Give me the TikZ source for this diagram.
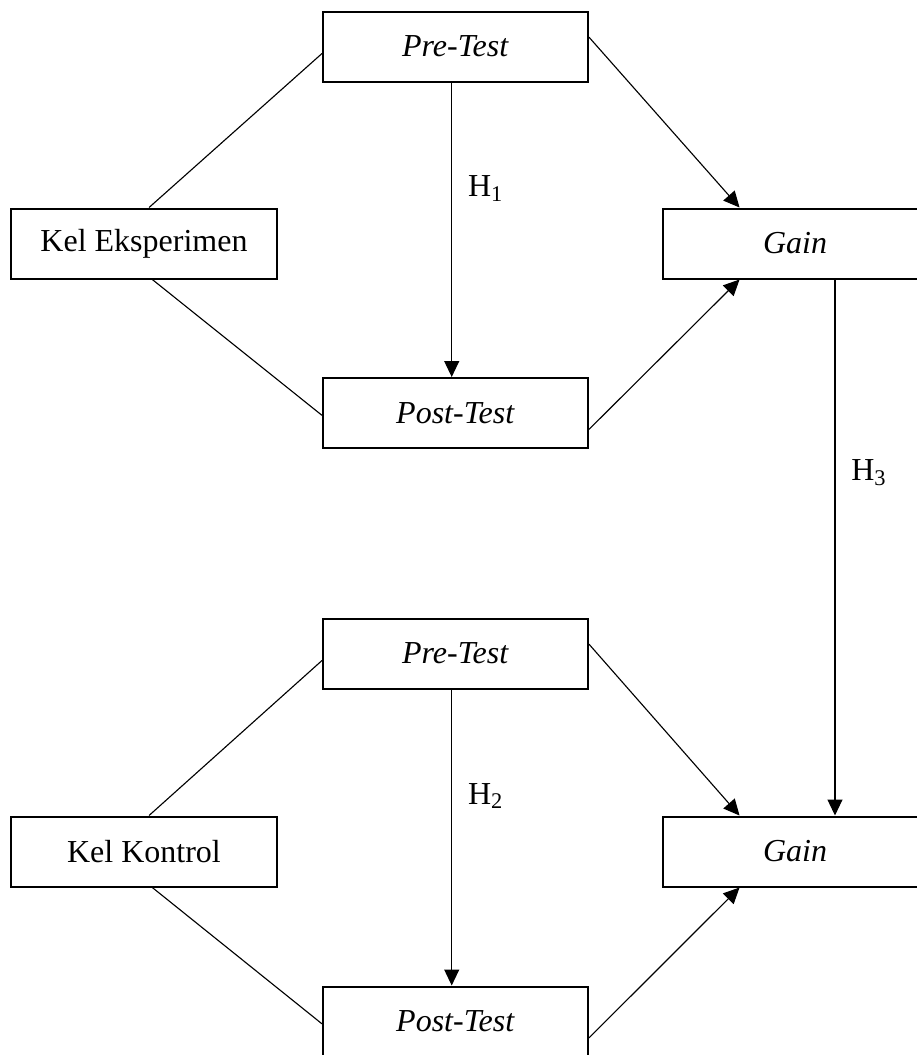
\documentclass[tikz,border=0pt]{standalone}
\usepackage{fontspec}
\setmainfont{Liberation Serif}
\usetikzlibrary{arrows.meta}
\tikzset{
  box/.style={rectangle,draw,line width=0.8pt,minimum width=106pt,
    minimum height=28pt,inner sep=0pt,font=\fontsize{12.8}{15}\selectfont},
  link/.style={line width=0.45pt},
  arr/.style={-{Triangle[length=6.4pt,width=6pt]},line width=0.45pt},
  hyp/.style={right=3pt,font=\fontsize{12.8}{15}\selectfont}
}
\begin{document}
\begin{tikzpicture}[x=0.4pt,y=-0.4pt]
 \useasboundingbox (0,0) rectangle (917,1055);
 % experiment group
 \node[box] (pre1) at (455.5,46.5) {\textit{Pre-Test}};
 \node[box] (kel1) at (144,243.5) {Kel Eksperimen};
 \node[box] (gain1) at (795,243.5) {\textit{Gain}};
 \node[box] (post1) at (455.5,413) {\textit{Post-Test}};
 % control group
 \node[box] (pre2) at (455.5,653.5) {\textit{Pre-Test}};
 \node[box] (kel2) at (144,851.5) {Kel Kontrol};
 \node[box] (gain2) at (795,851.5) {\textit{Gain}};
 \node[box] (post2) at (455.5,1021.5) {\textit{Post-Test}};
 % connectors
 \draw[link] (pre1.183) -- (kel1.82);
 \draw[link] (kel1.283) -- (post1.181);
 \draw[arr] (pre1.4) -- (gain1.147);
 \draw[arr] (post1.353) -- (gain1.213);
 \draw[arr] (pre1.264) -- (pre1.264 |- post1.north) node[hyp,pos=0.36] {H\textsubscript{1}};
 \draw[link] (pre2.183) -- (kel2.82);
 \draw[link] (kel2.283) -- (post2.181);
 \draw[arr] (pre2.4) -- (gain2.147);
 \draw[arr] (post2.353) -- (gain2.213);
 \draw[arr] (pre2.264) -- (pre2.264 |- post2.north) node[hyp,pos=0.36] {H\textsubscript{2}};
 % between the gains
 \draw[arr] (gain1.318) -- (gain1.318 |- gain2.north) node[hyp,pos=0.36] {H\textsubscript{3}};
\end{tikzpicture}
\end{document}
